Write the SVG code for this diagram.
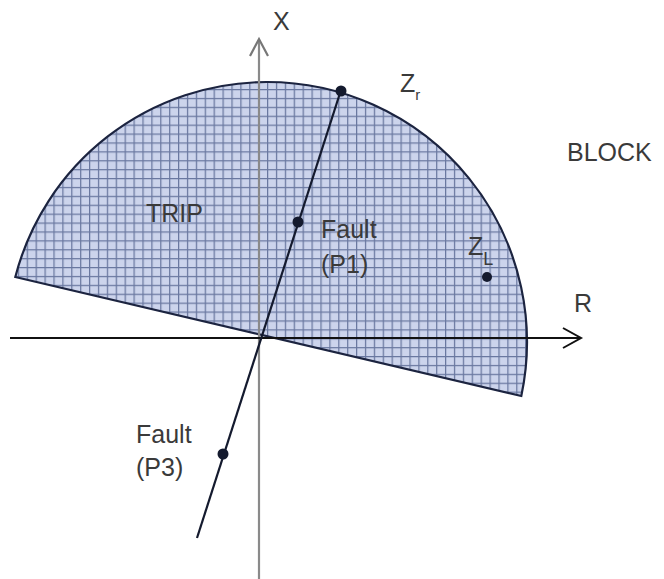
<svg xmlns="http://www.w3.org/2000/svg" width="664" height="579" viewBox="0 0 664 579">
<style>
text{font-family:"Liberation Sans",Arial,sans-serif;fill:#3a3a3a;font-size:25px}
.sub{font-size:15px}
.ax{stroke:#111;stroke-width:2;fill:none}
.dot{fill:#141a2e}
</style>
<defs>
<pattern id="grid" width="8.9" height="8.9" patternUnits="userSpaceOnUse">
<rect width="8.9" height="8.9" fill="#ccd4ec"/>
<path d="M0 0.6H8.9M0.6 0V8.9" stroke="#6a78a0" stroke-width="1.3"/>
</pattern>
</defs>
<rect width="664" height="579" fill="#fff"/>
<g id="trip-region">
<path d="M15.3 277 A260 260 0 0 1 267 82 A260 260 0 0 1 521.3 396 Z" fill="url(#grid)" stroke="#1c2440" stroke-width="2.2"/>
</g>
<g id="axes">
<line x1="259" y1="579" x2="259" y2="40" stroke="#8a8a8a" stroke-width="2.2"/>
<polyline points="250,56 259,39 268,56" fill="none" stroke="#777" stroke-width="2.2"/>
<line class="ax" x1="10" y1="338" x2="580" y2="338"/>
<polyline class="ax" points="563,328 581,338 563,348"/>
</g>
<g id="connectors">
<line x1="197" y1="538" x2="341" y2="90" stroke="#141a2e" stroke-width="2.2"/>
</g>
<g id="points">
<circle class="dot" cx="341" cy="91" r="5.5"/>
<circle class="dot" cx="298" cy="222" r="5.5"/>
<circle class="dot" cx="223" cy="454" r="5.5"/>
<circle class="dot" cx="487" cy="277" r="5"/>
</g>
<g id="labels">
<text x="273" y="30">X</text>
<text x="400" y="92">Z<tspan class="sub" dy="8">r</tspan></text>
<text x="567" y="161">BLOCK</text>
<text x="146" y="222">TRIP</text>
<text x="321" y="238">Fault</text>
<text x="321" y="273">(P1)</text>
<text x="468" y="255">Z<tspan style="font-size:18px" dy="10">L</tspan></text>
<text x="574" y="312">R</text>
<text x="136" y="443">Fault</text>
<text x="136" y="476">(P3)</text>
</g>
</svg>
